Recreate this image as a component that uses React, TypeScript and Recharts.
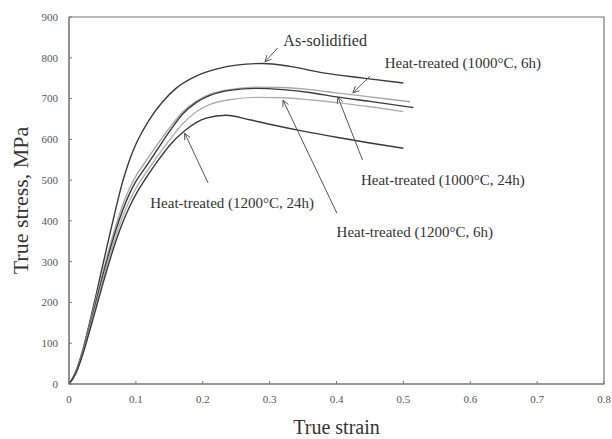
import React from "react";
import {
  LineChart,
  Line,
  XAxis,
  YAxis,
  ReferenceLine,
  ReferenceDot,
  ReferenceArea,
} from "recharts";

// True stress–strain curves (strain, MPa)
const asSolidified = [
  [0, 0], [0.01, 30], [0.02, 80], [0.03, 145], [0.04, 215], [0.05, 288],
  [0.06, 360], [0.07, 430], [0.08, 495], [0.09, 547], [0.1, 588], [0.11, 620],
  [0.12, 648], [0.14, 692], [0.16, 725], [0.19, 755], [0.22, 772], [0.25, 782],
  [0.29, 786], [0.33, 779], [0.38, 763], [0.44, 750], [0.5, 738],
];

const ht1000x6 = [
  [0, 0], [0.01, 28], [0.02, 78], [0.03, 140], [0.04, 205], [0.05, 270],
  [0.06, 332], [0.07, 388], [0.08, 438], [0.09, 478], [0.1, 510], [0.113, 542],
  [0.13, 582], [0.154, 636], [0.17, 667], [0.19, 693], [0.21, 710], [0.24, 722],
  [0.28, 728], [0.32, 727], [0.36, 722], [0.4, 714], [0.45, 704], [0.51, 692],
];

const ht1000x24 = [
  [0, 0], [0.01, 27], [0.02, 75], [0.03, 135], [0.04, 198], [0.05, 262],
  [0.06, 322], [0.07, 377], [0.08, 425], [0.09, 465], [0.1, 497], [0.113, 528],
  [0.13, 570], [0.154, 628], [0.17, 662], [0.19, 690], [0.21, 707], [0.24, 720],
  [0.28, 725], [0.32, 722], [0.36, 715], [0.4, 704], [0.45, 693], [0.515, 678],
];

const ht1200x6 = [
  [0, 0], [0.01, 26], [0.02, 72], [0.03, 130], [0.04, 190], [0.05, 252],
  [0.06, 310], [0.07, 363], [0.08, 410], [0.09, 448], [0.1, 480], [0.113, 513],
  [0.13, 553], [0.154, 606], [0.17, 638], [0.19, 667], [0.21, 685], [0.24, 697],
  [0.28, 703], [0.32, 702], [0.36, 697], [0.4, 690], [0.45, 680], [0.5, 668],
];

const ht1200x24 = [
  [0, 0], [0.01, 25], [0.02, 70], [0.03, 125], [0.04, 183], [0.05, 242],
  [0.06, 298], [0.07, 350], [0.08, 395], [0.09, 433], [0.1, 465], [0.115, 505],
  [0.133, 548], [0.153, 590], [0.173, 621], [0.19, 641], [0.205, 652],
  [0.235, 659], [0.27, 648], [0.3, 637], [0.35, 620], [0.4, 605], [0.45, 591],
  [0.5, 578],
];

const xTicks = [0, 0.1, 0.2, 0.3, 0.4, 0.5, 0.6, 0.7, 0.8];
const yTicks = [0, 100, 200, 300, 400, 500, 600, 700, 800, 900];

// Callout labels: text, label centre, arrow tail, arrow tip (strain, MPa)
const callouts = [
  { text: "As-solidified", at: [0.383, 843], from: [0.312, 824], to: [0.293, 790] },
  { text: "Heat-treated (1000°C, 6h)", at: [0.589, 787], from: [0.45, 755], to: [0.4245, 714] },
  { text: "Heat-treated (1000°C, 24h)", at: [0.559, 500], from: [0.439, 549], to: [0.402, 704] },
  { text: "Heat-treated (1200°C, 6h)", at: [0.517, 373], from: [0.4006, 419], to: [0.32, 696] },
  { text: "Heat-treated (1200°C, 24h)", at: [0.244, 444], from: [0.208, 493], to: [0.173, 615] },
];

const toRows = (pts: number[][]) => pts.map(([x, y]) => ({ x, y }));

const series = [
  { name: "As-solidified", data: toRows(asSolidified), color: "#3a3a3a" },
  { name: "Heat-treated (1000°C, 6h)", data: toRows(ht1000x6), color: "#a8a8a8" },
  { name: "Heat-treated (1000°C, 24h)", data: toRows(ht1000x24), color: "#3a3a3a" },
  { name: "Heat-treated (1200°C, 6h)", data: toRows(ht1200x6), color: "#b0b0b0" },
  { name: "Heat-treated (1200°C, 24h)", data: toRows(ht1200x24), color: "#3a3a3a" },
];

const SERIF = "'Liberation Serif', 'Times New Roman', serif";

const Arrow = (props: any) => {
  const { x1, y1, x2, y2 } = props;
  const ang = Math.atan2(y2 - y1, x2 - x1);
  const len = 7;
  const spread = 0.45;
  const ax = x2 - len * Math.cos(ang - spread);
  const ay = y2 - len * Math.sin(ang - spread);
  const bx = x2 - len * Math.cos(ang + spread);
  const by = y2 - len * Math.sin(ang + spread);
  return (
    <g stroke="#555" strokeWidth={1} fill="none">
      <line x1={x1} y1={y1} x2={x2} y2={y2} />
      <polyline points={`${ax},${ay} ${x2},${y2} ${bx},${by}`} />
    </g>
  );
};

const makeText = (text: string, size: number) => (props: any) => (
  <text
    x={props.cx}
    y={props.cy}
    textAnchor="middle"
    dominantBaseline="central"
    style={{ fontFamily: SERIF, fontSize: size }}
    fill="#333"
  >
    {text}
  </text>
);

const tickStyle = { fill: "#555", fontSize: 11, fontFamily: SERIF, style: { fontFamily: SERIF } };

export default function App() {
  return (
    <div style={{ position: "absolute", left: 0, top: 0, background: "#fff" }}>
      <LineChart
        width={612}
        height={439}
        margin={{ top: 17, right: 8, bottom: 25, left: 0 }}
        style={{ fontFamily: SERIF }}
      >
        <ReferenceArea
          x1={0}
          x2={0.8}
          y1={0}
          y2={900}
          fill="none"
          stroke="#777"
          strokeWidth={1.2}
          ifOverflow="visible"
        />
        <XAxis
          type="number"
          dataKey="x"
          domain={[0, 0.8]}
          ticks={xTicks}
          tickFormatter={(v: number) => (v === 0 ? "0" : String(v))}
          allowDataOverflow
          height={30}
          tickSize={-3}
          tickMargin={14}
          stroke="#777"
          tick={tickStyle}
          label={{
            value: "True strain",
            position: "insideBottom",
            offset: -20,
            style: { fill: "#333", fontSize: 20, fontFamily: SERIF },
          }}
        />
        <YAxis
          type="number"
          domain={[0, 900]}
          ticks={yTicks}
          allowDataOverflow
          width={69}
          tickSize={-3}
          tickMargin={14}
          stroke="#777"
          tick={tickStyle}
          label={{
            value: "True stress, MPa",
            angle: -90,
            position: "insideLeft",
            offset: 20,
            style: { textAnchor: "middle", fill: "#333", fontSize: 22, fontFamily: SERIF },
          }}
        />
        {series.map((s) => (
          <Line
            key={s.name}
            name={s.name}
            data={s.data}
            dataKey="y"
            type="monotone"
            stroke={s.color}
            strokeWidth={1.4}
            dot={false}
            isAnimationActive={false}
          />
        ))}
        {callouts.map((c) => (
          <ReferenceLine
            key={`arrow-${c.text}`}
            segment={[
              { x: c.from[0], y: c.from[1] },
              { x: c.to[0], y: c.to[1] },
            ]}
            shape={Arrow}
            ifOverflow="visible"
          />
        ))}
        {callouts.map((c, i) => (
          <ReferenceDot
            key={`label-${c.text}`}
            x={c.at[0]}
            y={c.at[1]}
            r={0}
            shape={makeText(c.text, i === 0 ? 16 : 15)}
            ifOverflow="visible"
          />
        ))}
      </LineChart>
    </div>
  );
}
